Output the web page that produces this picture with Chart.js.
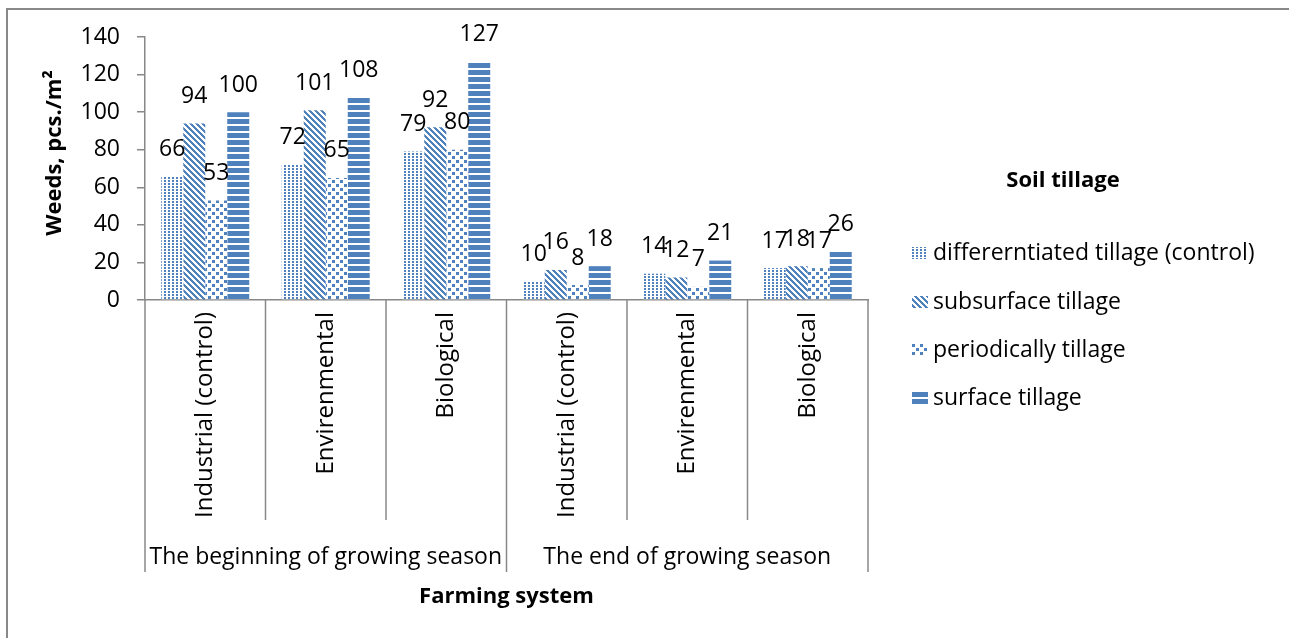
<!DOCTYPE html>
<html>
<head>
<meta charset="utf-8">
<script src="https://cdn.jsdelivr.net/npm/chart.js@4.4.1/dist/chart.umd.min.js"></script>
<style>
  html, body { margin: 0; background: #fff; }
  #wrap { width: 1289px; height: 638px; position: relative; }
</style>
</head>
<body>
<div id="wrap"><canvas id="chart"></canvas></div>
<script>
// data
const categories = ['Industrial (control)', 'Envirenmental', 'Biological',
                    'Industrial (control)', 'Envirenmental', 'Biological'];
const seasons = ['The beginning of growing season', 'The end of growing season'];
const seriesNames = ['differerntiated tillage (control)', 'subsurface tillage',
                     'periodically tillage', 'surface tillage'];
const differentiated = [66, 72, 79, 10, 14, 17];
const subsurface     = [94, 101, 92, 16, 12, 18];
const periodically   = [53, 65, 80, 8, 7, 17];
const surface        = [100, 108, 127, 18, 21, 26];
const yMin = 0, yMax = 140, yStep = 20;

const BLUE = '#4F81BD';
const AXIS = '#888888';
const FONT = '"Open Sans", "Noto Sans", sans-serif';

const canvas = document.getElementById('chart');
const ctx = canvas.getContext('2d');

// pixel patterns like the Excel fills
function makePattern(w, h, test) {
    const c = document.createElement('canvas');
    c.width = w; c.height = h;
    const g = c.getContext('2d');
    g.fillStyle = '#fff';
    g.fillRect(0, 0, w, h);
    g.fillStyle = BLUE;
    for (let y = 0; y < h; y++) {
        for (let x = 0; x < w; x++) {
            if (test(x, y)) g.fillRect(x, y, 1, 1);
        }
    }
    return ctx.createPattern(c, 'repeat');
}

const patterns = [
    makePattern(4, 3, (x, y) => x < 2 && y < 2),                    // small dots
    makePattern(6, 6, (x, y) => ((x - y + 12) % 6) < 3),            // wide downward diagonal
    makePattern(8, 8, (x, y) => (x < 3 && y < 3) || (x >= 4 && x < 7 && y >= 4 && y < 7)), // confetti
    makePattern(7, 7, (x, y) => y < 5)                              // horizontal stripes
];

const series = [differentiated, subsurface, periodically, surface];

// decorations: frame, category dividers, group labels, titles, value labels, legend
const decorations = {
    id: 'decorations',
    beforeDraw(chart) {
        const c = chart.ctx;
        c.save();
        c.strokeStyle = AXIS;
        c.lineWidth = 2;
        c.beginPath();
        c.moveTo(7, chart.height + 2);
        c.lineTo(7, 9);
        c.lineTo(chart.width + 2, 9);
        c.stroke();
        c.restore();
    },
    afterDatasetsDraw(chart) {
        const c = chart.ctx;
        c.save();
        c.fillStyle = '#000';
        c.font = '23px ' + FONT;
        c.textAlign = 'center';
        c.textBaseline = 'middle';
        chart.data.datasets.forEach((ds, i) => {
            chart.getDatasetMeta(i).data.forEach((bar, j) => {
                c.fillText(ds.data[j], bar.x, bar.y - 27);
            });
        });
        c.restore();
    },
    afterDraw(chart) {
        const c = chart.ctx;
        const area = chart.chartArea;
        const x = chart.scales.x;
        const step = x.getPixelForValue(1) - x.getPixelForValue(0);
        c.save();
        c.strokeStyle = AXIS;
        c.lineWidth = 1.5;
        for (let i = 0; i <= categories.length; i++) {
            const px = x.getPixelForValue(0) - step / 2 + step * i;
            const outer = i % 3 === 0;
            c.beginPath();
            c.moveTo(px, area.bottom);
            c.lineTo(px, area.bottom + (outer ? 272 : 220));
            c.stroke();
        }
        // season labels
        c.fillStyle = '#000';
        c.textAlign = 'center';
        c.textBaseline = 'middle';
        c.font = '23px ' + FONT;
        seasons.forEach((s, k) => {
            const mid = (x.getPixelForValue(k * 3) + x.getPixelForValue(k * 3 + 2)) / 2;
            c.fillText(s, mid, 557);
        });
        // axis titles
        c.font = 'bold 22px ' + FONT;
        c.fillText('Farming system', (area.left + area.right) / 2, 597);
        c.save();
        c.translate(55, 153);
        c.rotate(-Math.PI / 2);
        c.fillText('Weeds, pcs./m\u00B2', 0, 0);
        c.restore();
        // legend
        c.fillText('Soil tillage', 1063, 181);
        c.textAlign = 'left';
        c.font = '23px ' + FONT;
        const rows = [253, 302, 350, 398];
        seriesNames.forEach((name, i) => {
            c.fillStyle = patterns[i];
            c.fillRect(912, rows[i] - 6, 16, 12);
            c.fillStyle = '#000';
            c.fillText(name, 933, rows[i]);
        });
        c.restore();
    }
};

new Chart(ctx, {
    type: 'bar',
    data: {
        labels: categories,
        datasets: series.map((values, i) => ({
            label: seriesNames[i],
            data: values,
            backgroundColor: patterns[i],
            borderWidth: 0,
            categoryPercentage: 0.73,
            barPercentage: 1.0
        }))
    },
    options: {
        responsive: true,
        maintainAspectRatio: false,
        animation: false,
        layout: { padding: { left: 0, top: 37, right: 421, bottom: 0 } },
        plugins: {
            legend: { display: false },
            tooltip: { enabled: false }
        },
        scales: {
            x: {
                grid: { display: false, drawTicks: false },
                border: { color: AXIS, width: 1.5 },
                ticks: {
                    autoSkip: false,
                    minRotation: 90,
                    maxRotation: 90,
                    padding: 12,
                    color: '#000',
                    font: { family: FONT, size: 24 }
                },
                afterFit: s => { s.height = 338; }
            },
            y: {
                min: yMin,
                max: yMax,
                ticks: {
                    stepSize: yStep,
                    padding: 17,
                    color: '#000',
                    font: { family: FONT, size: 23 }
                },
                grid: { drawOnChartArea: false, tickLength: 8, color: AXIS, lineWidth: 1.5 },
                border: { color: AXIS, width: 1.5 },
                afterFit: s => { s.width = 145; }
            }
        }
    },
    plugins: [decorations]
});
</script>
</body>
</html>
